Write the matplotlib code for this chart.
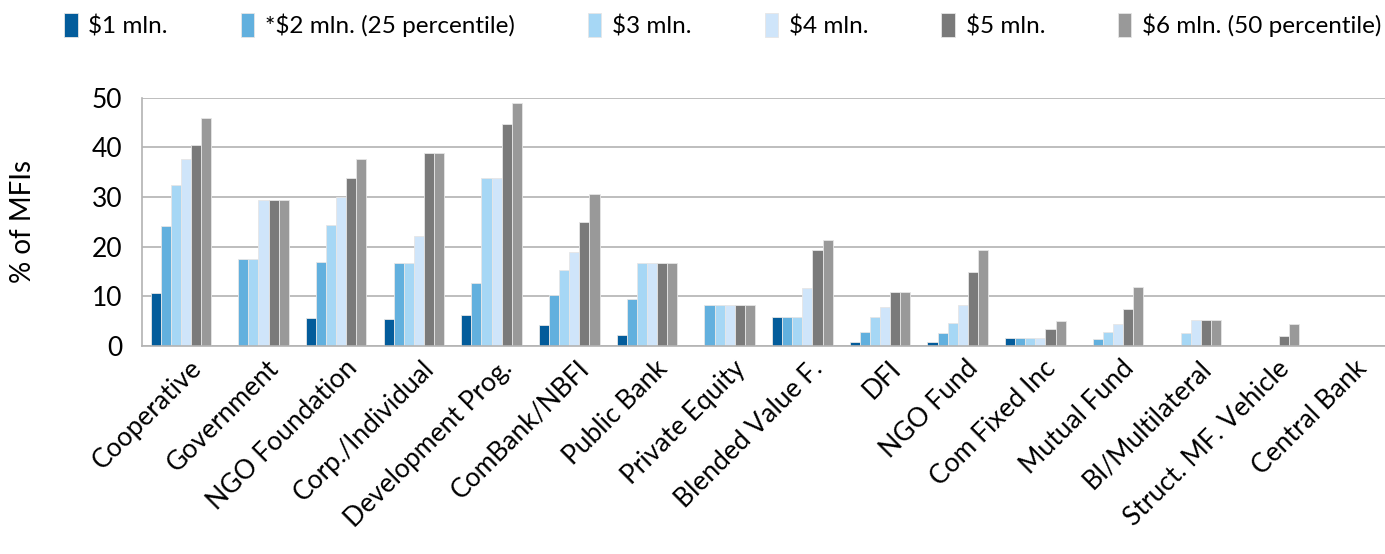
import numpy as np
import matplotlib
matplotlib.use("Agg")
from matplotlib import pyplot as plt

plt.rcParams['font.family'] = ['Lato', 'DejaVu Sans']

categories = ["Cooperative", "Government", "NGO Foundation", "Corp./Individual",
              "Development Prog.", "ComBank/NBFI", "Public Bank", "Private Equity",
              "Blended Value F.", "DFI", "NGO Fund", "Com Fixed Inc", "Mutual Fund",
              "BI/Multilateral", "Struct. MF. Vehicle", "Central Bank"]

series_names = ["$1 mln.", "*$2 mln. (25 percentile)", "$3 mln.", "$4 mln.",
                "$5 mln.", "$6 mln. (50 percentile)"]

m1 = [10.7, 0, 5.6, 5.5, 6.2, 4.2, 2.2, 0, 5.8, 0.9, 0.8, 1.6, 0, 0, 0, 0]
m2 = [24.2, 17.5, 16.9, 16.6, 12.7, 10.3, 9.4, 8.2, 5.8, 2.9, 2.6, 1.6, 1.4, 0, 0, 0]
m3 = [32.3, 17.5, 24.4, 16.6, 33.8, 15.2, 16.6, 8.2, 5.8, 5.8, 4.6, 1.6, 2.9, 2.6, 0, 0]
m4 = [37.7, 29.3, 30.0, 22.1, 33.8, 18.9, 16.6, 8.2, 11.7, 7.8, 8.2, 1.6, 4.4, 5.3, 0, 0]
m5 = [40.4, 29.3, 33.8, 38.8, 44.6, 25.0, 16.6, 8.2, 19.4, 10.9, 14.8, 3.4, 7.4, 5.3, 2.1, 0]
m6 = [45.8, 29.3, 37.6, 38.8, 48.8, 30.5, 16.6, 8.2, 21.4, 10.9, 19.4, 5.1, 11.9, 5.3, 4.4, 0]

colors = ["#035c9b", "#62b0de", "#a6d7f5", "#cfe5fa", "#7a7a7a", "#999999"]

fig = plt.figure(figsize=(13.85, 5.54), dpi=100)
ax = fig.add_axes([0.1025, 0.3755, 0.8975, 0.4485])

x = np.arange(len(categories))
w = 0.13
for i, (vals, name, c) in enumerate(zip([m1, m2, m3, m4, m5, m6], series_names, colors)):
    ax.bar(x + (i - 2.5) * w, vals, w, color=c, label=name,
           edgecolor="#e6e6e6", linewidth=0.6)

ax.set_xlim(-0.5, len(categories) - 0.5)
ax.set_ylim(0, 50)
ax.set_yticks(range(0, 51, 10))
ax.yaxis.grid(True, color="#b3b3b3", linewidth=1.2)
ax.set_axisbelow(True)
for s in ["top", "right"]:
    ax.spines[s].set_visible(False)
ax.spines["left"].set_color("#b3b3b3")
ax.spines["bottom"].set_color("#b3b3b3")
ax.spines["left"].set_linewidth(1.2)
ax.spines["bottom"].set_linewidth(1.2)
ax.tick_params(axis="both", length=0, colors="black")
ax.tick_params(axis="y", pad=14, labelsize=19)
ax.set_xticks(x + 0.1)
ax.set_xticklabels(categories, rotation=45, ha="right", rotation_mode="anchor",
                   fontsize=19)
ax.tick_params(axis="x", pad=7)
ax.set_ylabel("% of MFIs", fontsize=20, labelpad=40)

fig.legend(loc="upper center", bbox_to_anchor=(0.522, 1.0), ncol=6, frameon=False,
           fontsize=17.5, handlelength=0.55, handleheight=1.1, handletextpad=0.45,
           columnspacing=3.0, borderaxespad=0.15)

fig.savefig("out.png", dpi=100)
